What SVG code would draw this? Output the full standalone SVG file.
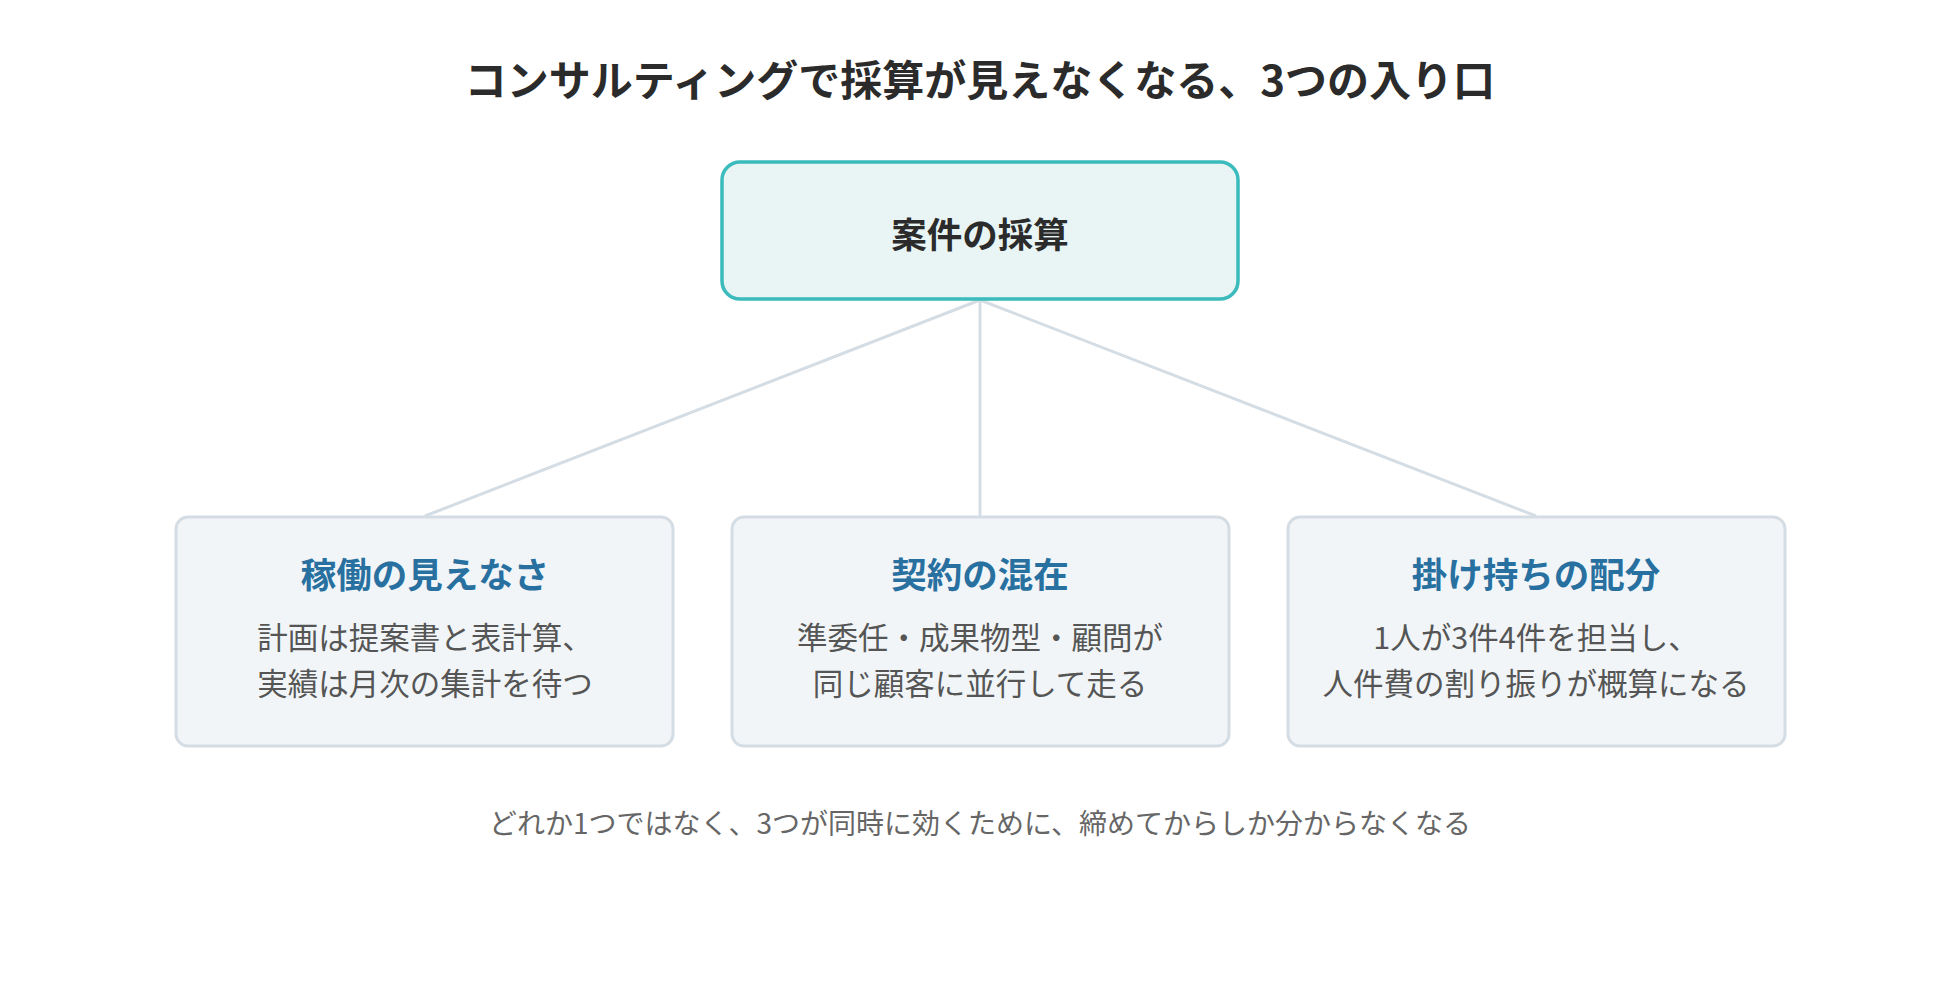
<svg xmlns="http://www.w3.org/2000/svg" width="1960" height="1000" viewBox="0 0 1960 1000">
<style>
text{font-family:"Noto Sans CJK JP","Noto Sans",sans-serif;text-anchor:middle;dominant-baseline:central}
.title{font-size:42px;font-weight:700;fill:#2b2b2b}
.root{fill:#e9f4f5;stroke:#3bbbbb;stroke-width:3.5}
.rootT{font-size:35.5px;font-weight:700;fill:#2b2b2b}
.card{fill:#f1f5f8;stroke:#d5dde4;stroke-width:3}
.head{font-size:35.5px;font-weight:700;fill:#2870a0}
.body{font-size:30.5px;fill:#555}
.foot{font-size:28px;fill:#666}
.conn{stroke:#d5dde4;stroke-width:3;fill:none}
</style>
<rect width="1960" height="1000" fill="#fff"/>
<text class="title" x="980" y="77">コンサルティングで採算が見えなくなる、3つの入り口</text>
<g id="connectors">
<line class="conn" x1="980" y1="300" x2="425" y2="516"/>
<line class="conn" x1="980" y1="300" x2="980" y2="516"/>
<line class="conn" x1="980" y1="300" x2="1536" y2="516"/>
</g>
<g id="root">
<rect class="root" x="722" y="162" width="516" height="137" rx="18"/>
<text class="rootT" x="980" y="232">案件の採算</text>
</g>
<g id="n1">
<rect class="card" x="176" y="517" width="497" height="229" rx="12"/>
<text class="head" x="425" y="572">稼働の見えなさ</text>
<text class="body" x="425" y="636">計画は提案書と表計算、</text>
<text class="body" x="425" y="682">実績は月次の集計を待つ</text>
</g>
<g id="n2">
<rect class="card" x="732" y="517" width="497" height="229" rx="12"/>
<text class="head" x="980" y="572">契約の混在</text>
<text class="body" x="980" y="636">準委任・成果物型・顧問が</text>
<text class="body" x="980" y="682">同じ顧客に並行して走る</text>
</g>
<g id="n3">
<rect class="card" x="1288" y="517" width="497" height="229" rx="12"/>
<text class="head" x="1536" y="572">掛け持ちの配分</text>
<text class="body" x="1536" y="636">1人が3件4件を担当し、</text>
<text class="body" x="1536" y="682">人件費の割り振りが概算になる</text>
</g>
<text class="foot" x="980" y="822">どれか1つではなく、3つが同時に効くために、締めてからしか分からなくなる</text>
</svg>
